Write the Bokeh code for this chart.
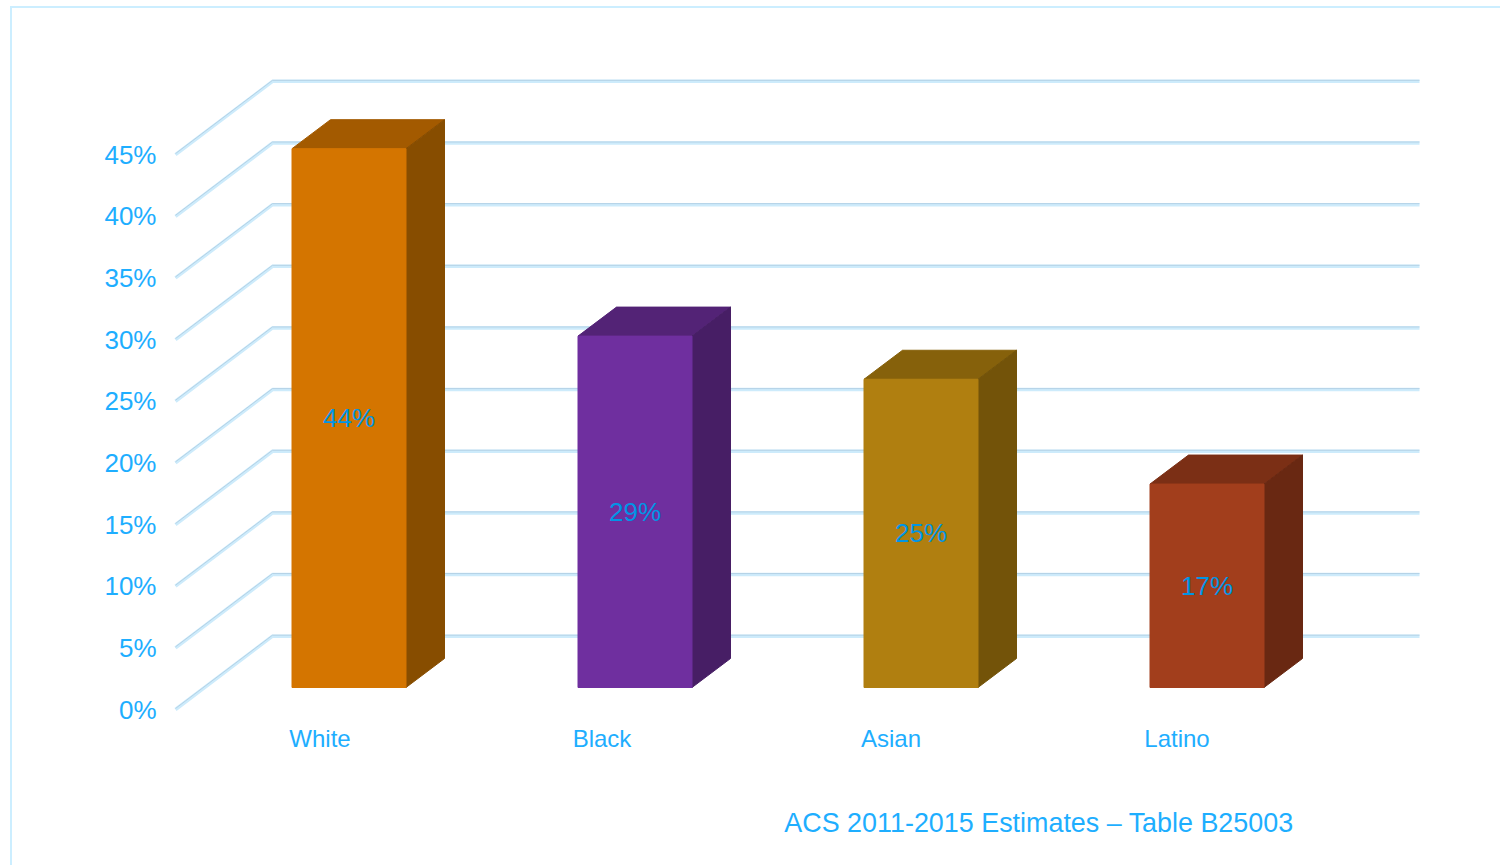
from bokeh.plotting import figure
from bokeh.models import Range1d, FixedTicker, LinearAxis
from bokeh.core.properties import value
from bokeh.embed import file_html
from bokeh.resources import INLINE

# ---- data ----
categories = ["White", "Black", "Asian", "Latino"]
shares = [43.7, 28.5, 25.0, 16.5]
bar_labels = ["44%", "29%", "25%", "17%"]
tick_values = [0, 5, 10, 15, 20, 25, 30, 35, 40, 45]
tick_labels = ["0%", "5%", "10%", "15%", "20%", "25%", "30%", "35%", "40%", "45%"]
source_note = "ACS 2011-2015 Estimates \u2013 Table B25003"
front_colors = ["#D47500", "#6F2F9F", "#B07F10", "#A23E1C"]
top_colors = ["#A35A00", "#532376", "#86610B", "#7B2F15"]
side_colors = ["#874D00", "#471E65", "#735309", "#692812"]

# ---- layout ----
PX_X, PX_Y = 286.0, 12.33
FIRST_CENTER, ZERO_Y = 348.5, 709.0     # reference pixels of category 0 / value 0
OX, OY = 12, 8                          # reference pixel of the canvas origin
W, H = 1490, 859
LEFT, BOTTOM = 153, 147
BLUE, NOTE_BLUE = "#1EAEFF", "#0095E6"
label_shifts_px = [29, 33, 30, 30]      # category labels sit left of the bar centres

def px_x(px):
    return (px - FIRST_CENTER) / PX_X

def px_y(px):
    return (ZERO_Y - px) / PX_Y

p = figure(width=W, height=H, output_backend="svg", toolbar_location=None,
           x_range=Range1d(px_x(OX + LEFT), px_x(OX + W)),
           y_range=Range1d(px_y(OY + H - BOTTOM), px_y(OY)),
           min_border_left=LEFT, min_border_right=0, min_border_top=0,
           min_border_bottom=BOTTOM)
p.outline_line_color = None
p.grid.visible = False
p.margin = (6, 0, 0, 10)
p.styles = {"border-left": "2px solid #CCEEFF", "border-top": "2px solid #CCEEFF"}

# left axis: value labels
p.yaxis.ticker = FixedTicker(ticks=tick_values)
p.yaxis.major_label_overrides = {t: s for t, s in zip(tick_values, tick_labels)}
p.yaxis.axis_line_color = None
p.yaxis.major_tick_line_color = None
p.yaxis.minor_tick_line_color = None
p.yaxis.major_tick_out = 0
p.yaxis.major_label_standoff = 9
p.yaxis.major_label_text_font = "Liberation Sans"
p.yaxis.major_label_text_font_size = "26px"
p.yaxis.major_label_text_color = BLUE

# bottom axis: categories
cat_ticks = [i - s / PX_X for i, s in enumerate(label_shifts_px)]
p.xaxis.ticker = FixedTicker(ticks=cat_ticks)
p.xaxis.major_label_overrides = {t: c for t, c in zip(cat_ticks, categories)}
p.xaxis.axis_line_color = None
p.xaxis.major_tick_line_color = None
p.xaxis.minor_tick_line_color = None
p.xaxis.major_tick_out = 0
p.xaxis.major_label_standoff = 4
p.xaxis.major_label_text_font = "Liberation Sans"
p.xaxis.major_label_text_font_size = "24px"
p.xaxis.major_label_text_color = BLUE

# source note: a second bottom axis with one labelled tick
note_tick = px_x(1038.5)
note_axis = LinearAxis(ticker=FixedTicker(ticks=[note_tick]),
                       major_label_overrides={note_tick: source_note},
                       axis_line_color=None, major_tick_line_color=None,
                       minor_tick_line_color=None, major_tick_out=0,
                       major_label_standoff=53,
                       major_label_text_font="Liberation Sans",
                       major_label_text_font_size="26.9px",
                       major_label_text_color=BLUE)
p.add_layout(note_axis, "below")

# receding gridlines
floor_dx, floor_dy = 97 / PX_X, 73.3 / PX_Y
x_front, x_right = px_x(175), px_x(1419)
grid_xs = [[x_front, x_front + floor_dx, x_right] for _ in tick_values]
grid_ys = [[t, t + floor_dy, t + floor_dy] for t in tick_values]
p.multi_line(grid_xs, grid_ys, line_color="#CDEBFB", line_width=3.5)
p.multi_line(grid_xs, [[y + 1 / PX_Y for y in ys] for ys in grid_ys],
             line_color="#B4D2E6", line_width=1)

# bars
half = 114 / PX_X / 2
dx, dy = 38.5 / PX_X, 29 / PX_Y
base = (ZERO_Y - 687) / PX_Y
xs = list(range(len(categories)))
tops = [base + s for s in shares]
p.patches([[x - half, x - half + dx, x + half + dx, x + half] for x in xs],
          [[t, t + dy, t + dy, t] for t in tops],
          fill_color=top_colors, line_color=top_colors, line_width=1)
p.patches([[x + half, x + half + dx, x + half + dx, x + half] for x in xs],
          [[base, base + dy, t + dy, t] for t in tops],
          fill_color=side_colors, line_color=side_colors, line_width=1)
p.vbar(x=xs, top=tops, bottom=base, width=2 * half,
       fill_color=front_colors, line_color=front_colors, line_width=1)

# bar value labels
p.text(x=xs, y=[base + s / 2 for s in shares], text=bar_labels,
       text_align="center", text_baseline="middle",
       text_font=value("Liberation Sans"), text_font_size="26px", text_color=NOTE_BLUE)

open("out.html", "w").write(file_html(p, INLINE))
